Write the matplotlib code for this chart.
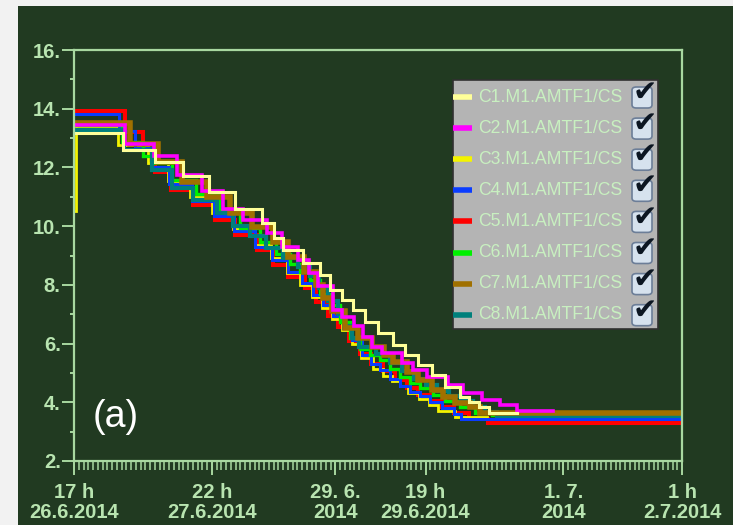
import matplotlib
matplotlib.use('Agg')
import matplotlib.pyplot as plt
import matplotlib.dates as mdates
from matplotlib import font_manager
from matplotlib.patches import Rectangle, FancyBboxPatch
from matplotlib.lines import Line2D
from matplotlib.ticker import FixedLocator, FixedFormatter, MultipleLocator
from datetime import datetime, timedelta

# time axis: hours after 26.6.2014 17:00
start = datetime(2014, 6, 26, 17)
end_hour = 128

names = ['C1.M1.AMTF1/CS', 'C2.M1.AMTF1/CS', 'C3.M1.AMTF1/CS', 'C4.M1.AMTF1/CS',
         'C5.M1.AMTF1/CS', 'C6.M1.AMTF1/CS', 'C7.M1.AMTF1/CS', 'C8.M1.AMTF1/CS']

c1_hours = [0, 10.3, 17.0, 23.0, 28.4, 33.9, 39.6, 42.0, 44.0, 48.3, 51.8, 53.9, 56.4, 58.8,
            61.3, 64.1, 67.2, 69.7, 72.5, 75.3, 78.1, 81.3, 83.2, 85.3, 87.4, 93.3]
c1_vals = [13.17, 12.6, 12.2, 11.7, 11.15, 10.6, 10.1, 9.6, 9.2, 8.73, 8.34, 7.83, 7.49, 7.14,
           6.75, 6.35, 5.95, 5.61, 5.27, 4.93, 4.53, 4.19, 4.0, 3.83, 3.62, 3.62]

c2_hours = [0, 10.8, 16.8, 21.7, 27.0, 31.4, 35.5, 40.6, 43.8, 47.2, 49.5, 51.4, 54.5, 56.5,
            59.0, 60.8, 62.7, 64.8, 69.0, 71.4, 74.3, 78.7, 81.9, 85.9, 89.7, 93.3, 100.8]
c2_vals = [13.45, 12.8, 12.4, 11.75, 11.2, 10.6, 10.2, 9.75, 9.3, 8.85, 8.4, 7.95, 7.14, 6.9,
           6.6, 6.22, 5.88, 5.68, 5.34, 5.1, 4.86, 4.59, 4.32, 4.08, 3.91, 3.70, 3.70]

c3_hours = [0, 0.4, 9.3, 15.6, 19.8, 24.5, 29.0, 33.5, 38.0, 41.5, 44.8, 47.5, 50.0, 52.2,
            54.3, 56.4, 58.5, 60.5, 63.0, 65.0, 66.9, 68.6, 70.3, 72.6, 74.7, 76.6, 80.2, 87.0]
c3_vals = [10.5, 13.4, 12.75, 12.15, 11.55, 11.0, 10.45, 9.9, 9.35, 8.9, 8.4, 8.0, 7.6, 7.2,
           6.85, 6.45, 6.0, 5.5, 5.15, 4.9, 4.73, 4.56, 4.32, 4.11, 3.91, 3.70, 3.50, 3.50]

c4_hours = [0, 9.5, 12.8, 16.4, 20.0, 24.8, 29.4, 33.6, 38.2, 41.6, 45.0, 48.0, 50.3, 52.4,
            54.5, 56.6, 58.5, 60.6, 62.5, 64.4, 66.5, 68.6, 70.7, 72.8, 75.0, 77.5, 80.0, 81.5, 128]
c4_vals = [13.82, 13.25, 12.65, 12.0, 11.45, 10.85, 10.35, 9.85, 9.3, 8.85, 8.45, 8.05, 7.65, 7.3,
           6.95, 6.53, 6.12, 5.6, 5.3, 5.1, 4.8, 4.55, 4.35, 4.2, 4.0, 3.82, 3.6, 3.43, 3.43]

c5_hours = [0, 10.7, 14.5, 17.1, 20.4, 25.1, 29.7, 33.9, 38.5, 41.9, 45.1, 48.6, 51.0, 53.5,
            55.5, 57.8, 60.2, 62.5, 65.0, 67.5, 70.0, 72.5, 75.0, 77.5, 80.0, 83.2, 87.2, 128]
c5_vals = [13.92, 13.21, 12.6, 11.84, 11.23, 10.72, 10.21, 9.70, 9.19, 8.68, 8.27, 7.9, 7.4, 6.95,
           6.55, 6.1, 5.65, 5.3, 5.05, 4.75, 4.5, 4.25, 4.05, 3.85, 3.65, 3.43, 3.31, 3.31]

c6_hours = [0, 10.2, 14.5, 16.4, 20.6, 25.7, 30.5, 35.0, 39.2, 42.5, 45.5, 47.6, 49.7, 51.8,
            53.9, 56.0, 58.2, 60.2, 62.3, 64.4, 66.5, 68.6, 70.7, 72.8, 75.5, 78.0, 81.3, 84.5, 88.0, 128]
c6_vals = [13.45, 12.85, 12.4, 12.15, 11.57, 11.1, 10.55, 9.95, 9.45, 9.05, 8.7, 8.44, 8.15, 7.7,
           7.3, 6.75, 6.2, 5.8, 5.62, 5.45, 5.15, 4.85, 4.65, 4.5, 4.25, 4.05, 3.84, 3.64, 3.55, 3.55]

c7_hours = [0, 11.8, 17.7, 22.7, 28.0, 32.8, 37.5, 41.9, 45.1, 48.4, 50.9, 52.4, 54.3, 57.1,
            59.8, 62.7, 65.3, 67.2, 70.1, 72.4, 75.4, 77.7, 80.2, 83.4, 85.5, 128]
c7_vals = [13.51, 12.80, 12.19, 11.50, 10.99, 10.45, 9.97, 9.46, 8.95, 8.44, 8.0, 7.55, 7.1, 6.53,
           6.2, 5.9, 5.6, 5.37, 5.03, 4.76, 4.42, 4.18, 3.98, 3.85, 3.62, 3.62]

c8_hours = [0, 10.5, 16.4, 20.6, 25.1, 30.1, 33.5, 37.0, 40.5, 44.0, 47.2, 49.7, 51.5, 53.5,
            55.5, 57.0, 58.5, 60.0, 63.5, 66.5, 69.0, 71.5, 74.0, 76.5, 79.0, 81.5, 84.0, 86.5, 89.0, 128]
c8_vals = [13.28, 12.59, 11.91, 11.30, 10.89, 10.45, 10.0, 9.65, 9.25, 8.9, 8.6, 8.3, 7.9, 7.45,
           7.0, 6.6, 6.2, 5.9, 5.65, 5.35, 5.05, 4.8, 4.6, 4.4, 4.2, 4.05, 3.85, 3.68, 3.53, 3.53]

y_ticks = [2, 4, 6, 8, 10, 12, 14, 16]
y_tick_labels = ['2.', '4.', '6.', '8.', '10.', '12.', '14.', '16.']
x_ticks = [datetime(2014, 6, 26, 17), datetime(2014, 6, 27, 22), datetime(2014, 6, 29, 0),
           datetime(2014, 6, 29, 19), datetime(2014, 7, 1, 0), datetime(2014, 7, 2, 1)]
x_tick_labels = ['17 h\n26.6.2014', '22 h\n27.6.2014', '29. 6.\n2014',
                 '19 h\n29.6.2014', '1. 7.\n2014', '1 h\n2.7.2014']

colors = ['#ffff99', '#ff00ff', '#f4f400', '#0a3cff', '#ff0000', '#00f000', '#a07000', '#00807c']
widths = [2.2, 2.6, 2.0, 2.2, 2.9, 2.4, 4.0, 3.0]
# drawing order, bottom first
order = [4, 2, 3, 5, 7, 6, 1, 0]

series = [(c1_hours, c1_vals), (c2_hours, c2_vals), (c3_hours, c3_vals), (c4_hours, c4_vals),
          (c5_hours, c5_vals), (c6_hours, c6_vals), (c7_hours, c7_vals), (c8_hours, c8_vals)]

bg = '#213a21'
fg = '#a8d8a0'
txt = '#b8e4b0'

available = {f.name for f in font_manager.fontManager.ttflist}
tick_family = 'Liberation Sans Narrow' if 'Liberation Sans Narrow' in available else 'Liberation Sans'
tick_size = 17 if tick_family == 'Liberation Sans Narrow' else 14.5

W, H = 733, 525
fig = plt.figure(figsize=(W / 100, H / 100), dpi=100, facecolor='#f2f2f2')
fig.add_artist(Rectangle((18 / W, 0), 1, 1 - 6 / H, transform=fig.transFigure,
                         facecolor=bg, edgecolor='none', zorder=0))

ax = fig.add_axes([74 / W, 1 - 461 / H, (682 - 74) / W, (461 - 50) / H])
ax.set_facecolor(bg)

for z, i in enumerate(order):
    hrs, vals = series[i]
    xs = [start + timedelta(hours=h) for h in hrs]
    ax.step(xs, vals, where='post', color=colors[i], lw=widths[i], zorder=3 + z,
            solid_joinstyle='miter')

ax.set_xlim(start, start + timedelta(hours=end_hour))
ax.set_ylim(2, 16)

for s in ax.spines.values():
    s.set_color(fg)
    s.set_linewidth(1.6)
    s.set_zorder(20)

ax.yaxis.set_major_locator(FixedLocator(y_ticks))
ax.yaxis.set_major_formatter(FixedFormatter(y_tick_labels))
ax.yaxis.set_minor_locator(MultipleLocator(1))
ax.xaxis.set_major_locator(FixedLocator(mdates.date2num(x_ticks)))
ax.xaxis.set_major_formatter(FixedFormatter(x_tick_labels))
ax.xaxis.set_minor_locator(mdates.HourLocator())

ax.tick_params(axis='y', which='major', length=8.6, width=1.4, color=fg, pad=1)
ax.tick_params(axis='y', which='minor', length=3, width=1.4, color=fg)
ax.tick_params(axis='x', which='major', length=10, width=1.4, color=fg, pad=6)
ax.tick_params(axis='x', which='minor', length=6.2, width=1.1, color=fg)
for lab in ax.get_yticklabels() + ax.get_xticklabels():
    lab.set_family(tick_family)
    lab.set_fontweight('bold')
    lab.set_fontsize(tick_size)
    lab.set_color(txt)
for lab in ax.get_xticklabels():
    lab.set_linespacing(1.05)

fig.text(116 / W, 1 - 417 / H, '(a)', color='white', fontsize=27,
         family='Liberation Sans', ha='center', va='center')

# series list with check boxes
fx = lambda x: x / W
fy = lambda y: 1 - y / H
fig.add_artist(Rectangle((fx(453), fy(329)), (658 - 453) / W, (329 - 80) / H,
                         transform=fig.transFigure, facecolor='#b4b4b4',
                         edgecolor='#303030', lw=1.2, zorder=30))
for k, name in enumerate(names):
    yc = 97 + 31.1 * k
    fig.add_artist(Line2D([fx(453), fx(472)], [fy(yc), fy(yc)], transform=fig.transFigure,
                          color=colors[k], lw=4, solid_capstyle='butt', zorder=31))
    fig.text(fx(478), fy(yc), name, color='#c8f0c0', fontsize=12.7,
             family='Liberation Sans', ha='left', va='center', zorder=31)
    fig.add_artist(FancyBboxPatch((fx(632), fy(yc + 11)), 20 / W, 21 / H,
                                  boxstyle='round,pad=0,rounding_size=0.006',
                                  transform=fig.transFigure, facecolor='#d6e2ee',
                                  edgecolor='#6c7e98', lw=1.2, zorder=31))
    fig.text(fx(645), fy(yc - 4), '\u2714', color='#0c1622', fontsize=21,
             family='DejaVu Sans', ha='center', va='center', zorder=32)

plt.savefig('out.png', dpi=100, facecolor=fig.get_facecolor())
